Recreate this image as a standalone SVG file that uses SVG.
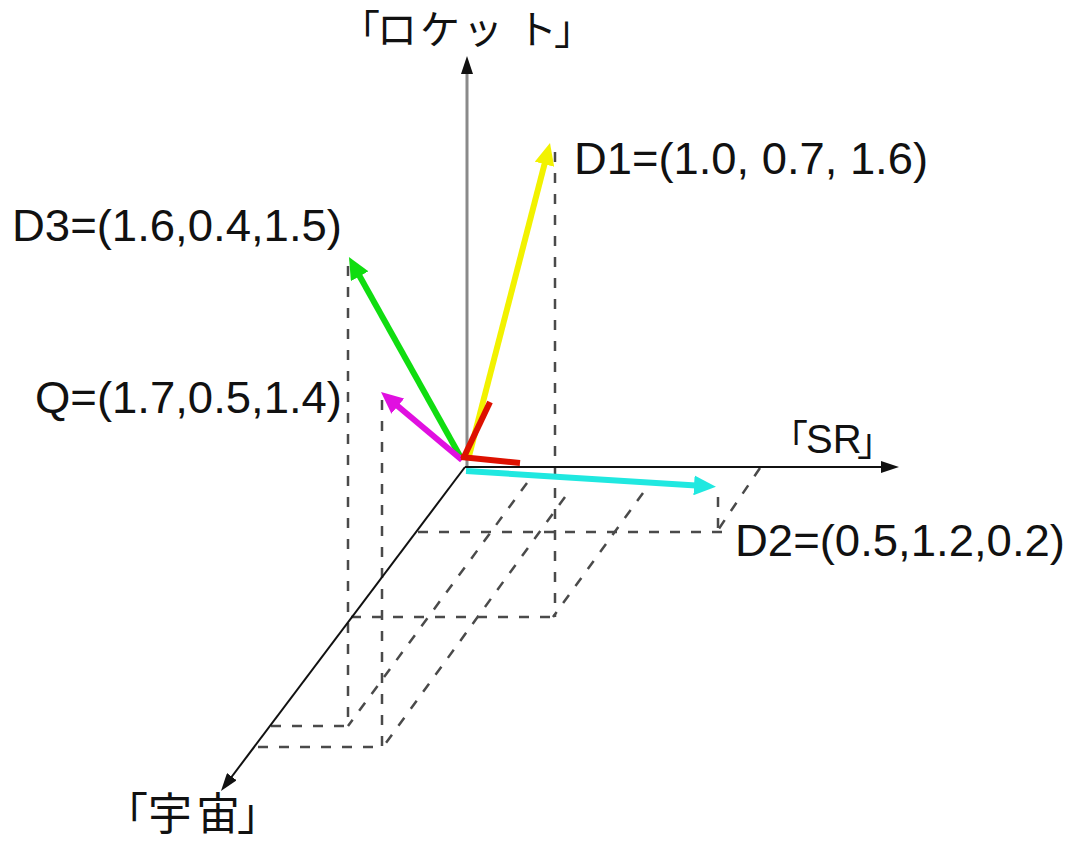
<svg xmlns="http://www.w3.org/2000/svg" width="1070" height="843" viewBox="0 0 1070 843">
<style>
.lbl{font-family:"Liberation Sans","Noto Sans CJK JP",sans-serif;font-size:44px;fill:#111}
.jp{font-family:"Noto Sans CJK JP","Liberation Sans",sans-serif;fill:#111}
.dash{stroke:#4a4a4a;stroke-width:2.5;stroke-dasharray:10 11;fill:none}
.axis{stroke:#111;stroke-width:2;fill:none}
.vec{stroke-width:6;fill:none;stroke-linecap:butt}
</style>
<defs>
<marker id="ahAxis" markerUnits="userSpaceOnUse" markerWidth="18" markerHeight="12" refX="8" refY="6" orient="auto"><path d="M0,0 L18,6 L0,12 z" fill="#111"/></marker>
<marker id="ahY" markerUnits="userSpaceOnUse" markerWidth="24" markerHeight="20" refX="10" refY="10" orient="auto"><path d="M0,0 L22,10 L0,20 z" fill="#f2f200"/></marker>
<marker id="ahG" markerUnits="userSpaceOnUse" markerWidth="24" markerHeight="20" refX="10" refY="10" orient="auto"><path d="M0,0 L22,10 L0,20 z" fill="#10dd10"/></marker>
<marker id="ahM" markerUnits="userSpaceOnUse" markerWidth="24" markerHeight="20" refX="10" refY="10" orient="auto"><path d="M0,0 L22,10 L0,20 z" fill="#e010e0"/></marker>
<marker id="ahC" markerUnits="userSpaceOnUse" markerWidth="24" markerHeight="20" refX="10" refY="10" orient="auto"><path d="M0,0 L22,10 L0,20 z" fill="#20e8e0"/></marker>
</defs>

<g id="dashed-guides">
<line class="dash" x1="348" y1="266" x2="348" y2="726"/>
<line class="dash" x1="382" y1="400" x2="382" y2="747"/>
<line class="dash" x1="555" y1="152" x2="555" y2="617"/>
<line class="dash" x1="718" y1="497" x2="718" y2="532"/>
<line class="dash" x1="418" y1="532" x2="722" y2="532"/>
<line class="dash" x1="351" y1="617" x2="555" y2="617"/>
<line class="dash" x1="271" y1="726" x2="348" y2="726"/>
<line class="dash" x1="258" y1="747" x2="383" y2="747"/>
<line class="dash" x1="527" y1="483" x2="348" y2="726"/>
<line class="dash" x1="565" y1="497" x2="383" y2="747"/>
<line class="dash" x1="643" y1="493" x2="553" y2="617"/>
<line class="dash" x1="760" y1="468" x2="718" y2="530"/>
</g>

<g id="connectors">
<line id="axis-rocket" x1="467" y1="467" x2="467" y2="66" stroke="#8a8a8a" stroke-width="3" marker-end="url(#ahAxis)"/>
<line id="axis-sr" class="axis" x1="465" y1="467" x2="889" y2="467" marker-end="url(#ahAxis)"/>
<line id="axis-uchu" class="axis" x1="465" y1="467" x2="227" y2="783" marker-end="url(#ahAxis)"/>
<line id="vec-D2" class="vec" stroke="#20e8e0" stroke-width="8" x1="466" y1="471" x2="704" y2="486" marker-end="url(#ahC)"/>
<line id="vec-D1" class="vec" stroke="#f2f200" stroke-width="7" x1="468" y1="460" x2="547" y2="154.6" marker-end="url(#ahY)"/>
<line id="vec-D3" class="vec" stroke="#10dd10" x1="460" y1="456" x2="354.8" y2="267.5" marker-end="url(#ahG)"/>
<line id="vec-Q" class="vec" stroke="#e010e0" x1="462" y1="460" x2="390.2" y2="399.7" marker-end="url(#ahM)"/>
<line id="vec-red1" class="vec" stroke="#dd1100" x1="463" y1="459" x2="490" y2="402"/>
<line id="vec-red2" class="vec" stroke="#dd1100" x1="461" y1="457" x2="520" y2="463"/>
</g>

<g id="label-rocket">
<text class="jp" font-size="40" y="44"><tspan x="340">「</tspan><tspan x="377">ロ</tspan><tspan x="420">ケ</tspan><tspan x="463">ッ</tspan><tspan x="517">ト</tspan><tspan x="554">」</tspan></text>
</g>
<g id="label-sr">
<text class="jp" font-size="38" y="452"><tspan x="770">「</tspan><tspan x="806" y="453" font-family="Liberation Sans, sans-serif" font-size="40">SR</tspan><tspan x="857" y="455">」</tspan></text>
</g>
<g id="label-uchu">
<text class="jp" font-size="44" y="830"><tspan x="104">「</tspan><tspan x="148">宇</tspan><tspan x="196">宙</tspan><tspan x="237">」</tspan></text>
</g>
<g id="label-D1"><text class="lbl" x="574" y="174" textLength="354" lengthAdjust="spacingAndGlyphs">D1=(1.0, 0.7, 1.6)</text></g>
<g id="label-D3"><text class="lbl" x="12" y="241" textLength="330" lengthAdjust="spacingAndGlyphs">D3=(1.6,0.4,1.5)</text></g>
<g id="label-Q"><text class="lbl" x="35" y="413" textLength="307" lengthAdjust="spacingAndGlyphs">Q=(1.7,0.5,1.4)</text></g>
<g id="label-D2"><text class="lbl" x="735" y="556" textLength="330" lengthAdjust="spacingAndGlyphs">D2=(0.5,1.2,0.2)</text></g>
</svg>
